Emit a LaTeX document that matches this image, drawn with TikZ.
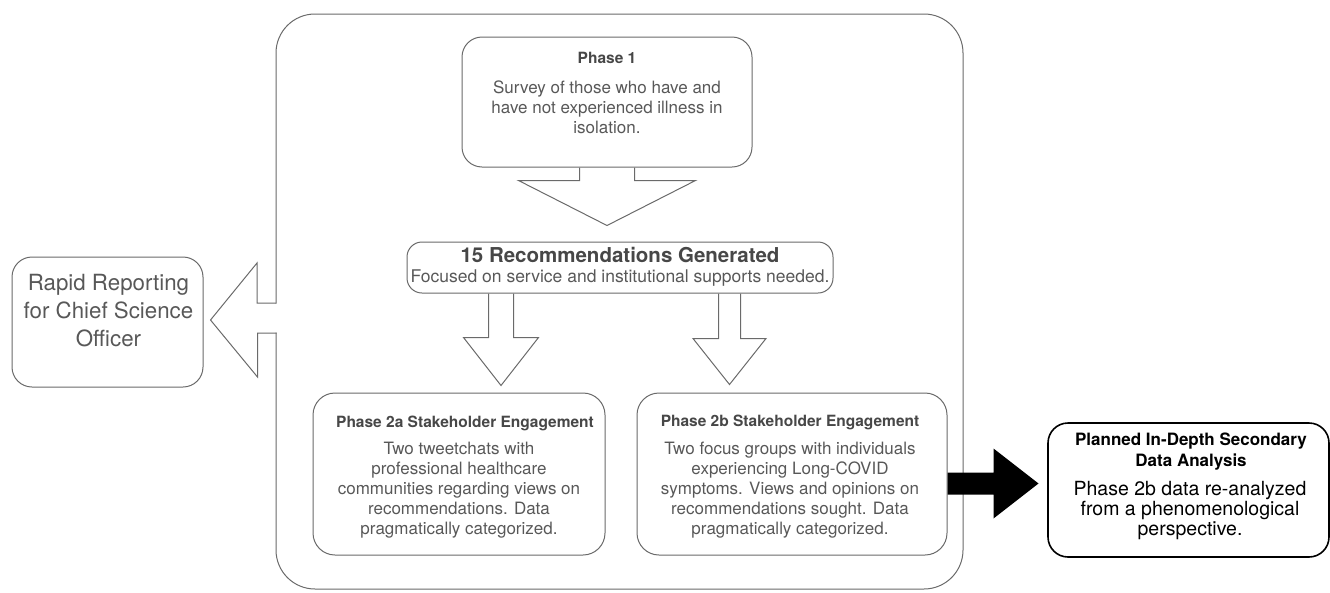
\documentclass[tikz,border=0pt]{standalone}
\usepackage{fontspec}
\setmainfont{TeX Gyre Heros}
\usetikzlibrary{calc}
\definecolor{linegray}{HTML}{6A6A6A}
\definecolor{titlegray}{HTML}{474747}
\definecolor{bodygray}{HTML}{585858}
\newcommand{\blockdown}[5]{%
  \draw[arr] ($(#1)+(-#2,0)$) -- ++(0,#3) -- ++({#2-#4},0) -- ++(#4,#5) -- ++(#4,-#5) -- ++({#2-#4},0) -- ++(0,-#3);}
\begin{document}
\begin{tikzpicture}[x=1pt,y=-1pt,
  box/.style={draw=linegray, line width=1pt, rounded corners=#1, inner sep=0pt},
  arr/.style={draw=linegray, line width=1pt, line join=miter},
  frame/.style={draw=linegray, line width=1pt, line cap=rect},
  ttl/.style={text=titlegray, align=center, inner sep=0pt, font=\bfseries\fontsize{15.5}{19}\selectfont},
  bdy/.style={text=bodygray, align=center, inner sep=0pt, font=\fontsize{17}{20}\selectfont},
]
\useasboundingbox (0,0) rectangle (1330,592);
% outer frame
\draw[frame, rounded corners=39pt] (276,303) -- (276,14) -- (963,14) -- (963,589) -- (276,589) -- (276,333);
% boxes
\node[box=20pt, minimum width=290pt, minimum height=130pt] (p1) at (607,102) {};
\node[box=15pt, minimum width=426pt, minimum height=51pt] (rec) at (620,267.5) {};
\node[box=22pt, minimum width=292pt, minimum height=162pt] (p2a) at (459,474) {};
\node[box=22pt, minimum width=310pt, minimum height=162pt] (p2b) at (792,474) {};
\node[box=20pt, minimum width=191pt, minimum height=130pt] (rapid) at (107.5,322) {};
\node[draw=black, line width=1.6pt, rounded corners=20pt, inner sep=0pt, minimum width=281pt, minimum height=134pt] (plan) at (1188.5,490) {};
% texts
\node[ttl] (p1t) at (607,58) {Phase 1};
\node[bdy] (p1b) at (607,107.5) {Survey of those who have and\\have not experienced illness in\\isolation.};
\node[ttl, font=\bfseries\fontsize{20.5}{24}\selectfont] (rect) at (620,255) {15 Recommendations Generated};
\node[bdy, font=\fontsize{17.5}{20}\selectfont] (recb) at (620,278) {Focused on service and institutional supports needed.};
\node[ttl] (p2at) at (465,423) {Phase 2a Stakeholder Engagement};
\node[bdy] (p2ab) at (459,490) {Two tweetchats with\\professional healthcare\\communities regarding views on\\recommendations. Data\\pragmatically categorized.};
\node[ttl] (p2bt) at (790,422) {Phase 2b Stakeholder Engagement};
\node[bdy] (p2bb) at (790,490) {Two focus groups with individuals\\experiencing Long-COVID\\symptoms. Views and opinions on\\recommendations sought. Data\\pragmatically categorized.};
\node[bdy, text=bodygray, font=\fontsize{22.3}{28}\selectfont] (rapidt) at (108.5,311) {Rapid Reporting\\for Chief Science\\Officer};
\node[ttl, text=black, font=\bfseries\fontsize{17}{21}\selectfont] (plant) at (1191,451.5) {Planned In-Depth Secondary\\Data Analysis};
\node[bdy, text=black, font=\fontsize{19.5}{20}\selectfont] (planb) at (1190,511) {Phase 2b data re-analyzed\\from a phenomenological\\perspective.};
% block arrows
\blockdown{p1.south}{27.5}{13}{88.5}{45}
\coordinate (ra) at ($(rec.south)+(-119,0)$);
\coordinate (rb) at ($(rec.south)+(109.5,0)$);
\blockdown{ra}{12.5}{44}{37.5}{48}
\blockdown{rb}{11}{45}{36.5}{46}
\coordinate (lt) at ($(rapid.east)+(7,-2)$);
\draw[arr] (276,303) -- ++(-19,0) -- ++(0,-40) -- (lt) -- ++(47,57) -- ++(0,-44) -- ++(19,0);
\coordinate (ba) at ($(p2b.east)+(0,9)$);
\fill[black] ($(ba)+(0,-10.5)$) -- ++(46,0) -- ++(0,-24) -- ++(45,35) -- ++(-45,35) -- ++(0,-24) -- ++(-46,0) -- cycle;
\end{tikzpicture}
\end{document}
